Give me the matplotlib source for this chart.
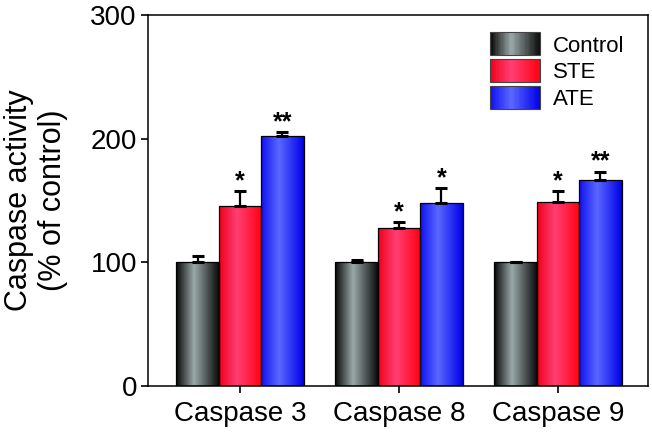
import numpy as np
import matplotlib
matplotlib.use("Agg")
import matplotlib.pyplot as plt
from matplotlib.colors import LinearSegmentedColormap
from matplotlib.patches import Rectangle
from matplotlib.legend_handler import HandlerBase

plt.rcParams['font.family'] = ['Liberation Sans', 'DejaVu Sans']

categories = ["Caspase 3", "Caspase 8", "Caspase 9"]
series = ["Control", "STE", "ATE"]
control = [100, 100, 100]
control_err = [5, 2, 0.5]
ste = [145.8, 127.5, 148.5]
ste_err = [11.6, 5, 9]
ate = [202, 147.7, 166.3]
ate_err = [3, 12.6, 7]
ste_sig = ["*", "*", "*"]
ate_sig = ["**", "*", "**"]
yticks = [0, 100, 200, 300]

# gradient colours: (edge_left, centre, edge_right)
grad = {
    "Control": ("#050505", "#9aa9a8", "#0a0a0a"),
    "STE": ("#f0001a", "#ff3f74", "#ff0010"),
    "ATE": ("#1010f0", "#5a68ff", "#0000e8"),
}

def make_cmap(name):
    l, c, r = grad[name]
    return LinearSegmentedColormap.from_list(name, [(0, l), (0.42, c), (1, r)])

cmaps = {s: make_cmap(s) for s in series}

fig = plt.figure(figsize=(6.52, 4.34), dpi=100)
ax = fig.add_axes([148/652, 1-386/434, 500/652, 371/434])

x = np.arange(len(categories))
w = 0.267
vals = [control, ste, ate]
errs = [control_err, ste_err, ate_err]
offsets = [-w, 0, w]

grad_row = np.linspace(0, 1, 256).reshape(1, -1)
for s, v, e, off in zip(series, vals, errs, offsets):
    bars = ax.bar(x + off, v, w, color='none', edgecolor='black', linewidth=0.9, zorder=3)
    for b in bars:
        bx, by = b.get_x(), b.get_y()
        im = ax.imshow(grad_row, cmap=cmaps[s], aspect='auto',
                       extent=(bx, bx + b.get_width(), by, by + b.get_height()),
                       zorder=2, interpolation='bilinear')
        im.set_clip_path(b)
    ax.errorbar(x + off, v, yerr=[np.zeros(len(e)), e], fmt='none', ecolor='black',
                elinewidth=1.6, capsize=4, capthick=2.2, zorder=4)

for i in range(len(categories)):
    for sig, v, e, off in ((ste_sig[i], ste[i], ste_err[i], w), (ate_sig[i], ate[i], ate_err[i], 2 * w)):
        ax.annotate(sig, (x[i] - w + off, v + e), xytext=(0, -1.5), textcoords='offset points',
                    ha='center', va='bottom', fontsize=18, fontweight='bold')

ax.set_xlim(-0.579, 2.566)
ax.set_ylim(0, 300)
ax.set_yticks(yticks)
ax.set_xticks(x)
ax.set_xticklabels(categories, fontsize=20)
ax.tick_params(axis='y', labelsize=20, direction='out', length=5, width=1.2, pad=3)
ax.tick_params(axis='x', direction='out', length=5, width=1.2, pad=6)
for sp in ax.spines.values():
    sp.set_linewidth(1.1)
ax.set_ylabel("Caspase activity\n(% of control)", fontsize=22, linespacing=1.2, labelpad=16)

class GradHandler(HandlerBase):
    def __init__(self, cmap):
        super().__init__()
        self.cmap = cmap
    def create_artists(self, legend, orig_handle, xdescent, ydescent, width, height, fontsize, trans):
        arts = []
        n = 40
        for k in range(n):
            r = Rectangle((-xdescent + width * k / n, -ydescent - 0.1 * height), width / n + 0.3, height * 1.2,
                          facecolor=self.cmap((k + 0.5) / n), edgecolor='none', transform=trans)
            arts.append(r)
        arts.append(Rectangle((-xdescent, -ydescent - 0.1 * height), width, height * 1.2, facecolor='none',
                              edgecolor='#444444', linewidth=0.8, transform=trans))
        return arts

handles = [Rectangle((0, 0), 1, 1) for _ in series]
hmap = {h: GradHandler(cmaps[s]) for h, s in zip(handles, series)}
ax.legend(handles, series, handler_map=hmap, loc='upper left', bbox_to_anchor=(0.684, 0.948),
          frameon=False, fontsize=16, borderpad=0, borderaxespad=0, handlelength=2.25,
          handleheight=0.95, labelspacing=0.2, handletextpad=0.6)

fig.savefig("out.png", dpi=100)
